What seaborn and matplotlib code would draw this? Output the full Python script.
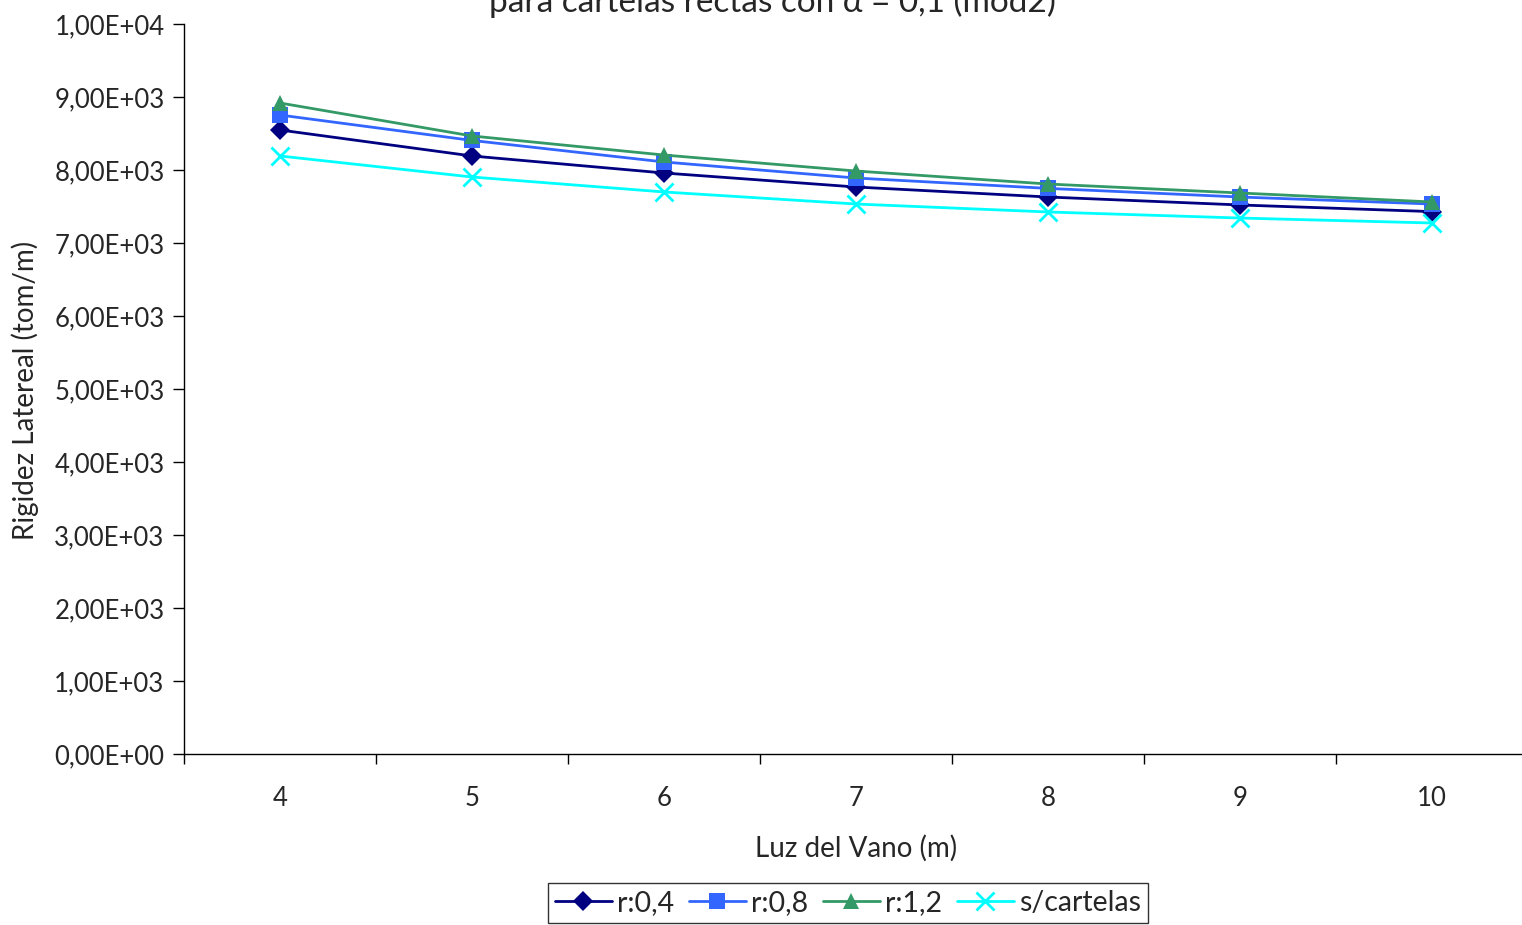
import matplotlib
matplotlib.use('Agg')
import matplotlib.pyplot as plt
import seaborn as sns
import pandas as pd
import numpy as np
from matplotlib.ticker import FuncFormatter, FixedLocator

luz = [4, 5, 6, 7, 8, 9, 10]
r04 = [8548, 8192, 7959, 7767, 7630, 7521, 7430]
r08 = [8753, 8405, 8110, 7890, 7748, 7630, 7534]
r12 = [8918, 8466, 8205, 7986, 7808, 7685, 7562]
s_cartelas = [8192, 7904, 7699, 7534, 7425, 7342, 7274]
series = ['r:0,4', 'r:0,8', 'r:1,2', 's/cartelas']

colors = {'r:0,4': '#000080', 'r:0,8': '#3366FF', 'r:1,2': '#339966', 's/cartelas': '#00FFFF'}
markers = {'r:0,4': 'D', 'r:0,8': 's', 'r:1,2': '^', 's/cartelas': 'x'}
sizes = {'r:0,4': 10, 'r:0,8': 11, 'r:1,2': 12, 's/cartelas': 13}

df = pd.DataFrame({
    'luz': luz * 4,
    'rigidez': r04 + r08 + r12 + s_cartelas,
    'serie': [s for s in series for _ in luz],
})

sns.set_style('white')
plt.rcParams['font.family'] = ['Lato', 'DejaVu Sans']

fig = plt.figure(figsize=(15.22, 9.25), dpi=100)
ax = fig.add_axes([184/1522, (925-754)/925, (1528-184)/1522, (754-24)/925])

for s in series:
    sub = df[df['serie'] == s]
    ew = 2 if markers[s] == 'x' else 0
    sns.lineplot(data=sub, x='luz', y='rigidez', color=colors[s], marker=markers[s],
                 markersize=sizes[s], markeredgewidth=ew, markeredgecolor=colors[s],
                 linewidth=2, label=s, ax=ax)

ax.set_xlim(3.5, 10.5)
ax.set_ylim(0, 10000)
ax.set_yticks(np.arange(0, 10001, 1000))
ax.yaxis.set_major_formatter(FuncFormatter(lambda v, p: f'{v:.2E}'.replace('.', ',')))
ax.set_xticks(luz)
ax.xaxis.set_minor_locator(FixedLocator(np.arange(3.5, 10.6, 1)))
ax.tick_params(axis='x', which='major', length=0, pad=23, labelsize=18.5)
ax.tick_params(axis='x', which='minor', length=7, width=1, color='black', direction='out')
ax.tick_params(axis='y', which='major', length=8, width=1, color='black', direction='out',
               labelsize=18.5, pad=6)
ax.xaxis.set_ticks_position('bottom')
ax.yaxis.set_ticks_position('left')

for sp in ['top', 'right']:
    ax.spines[sp].set_visible(False)
for sp in ['left', 'bottom']:
    ax.spines[sp].set_color('black')
    ax.spines[sp].set_linewidth(1)

ax.set_xlabel('')
ax.set_ylabel('')
fig.text(856/1522, 1 - 848/925, 'Luz del Vano (m)', ha='center', va='center', fontsize=20)
fig.text(25/1522, 1 - 390/925, 'Rigidez Latereal (tom/m)', ha='center', va='center',
         rotation=90, fontsize=20)
fig.text(772/1522, 1 - 12/925, 'para cartelas rectas con α = 0,1 (mod2)', ha='center',
         va='baseline', fontsize=24)

ax.get_legend().remove()
handles, labels = ax.get_legend_handles_labels()
leg = fig.legend(handles, labels, loc='center', bbox_to_anchor=(848/1522, 1 - 903/925),
                 ncol=4, frameon=True, fontsize=20.5, handlelength=2.0, handletextpad=0.2,
                 columnspacing=0.5, borderpad=0.25, fancybox=False, edgecolor='black')
leg.get_frame().set_linewidth(1)

fig.savefig('out.png', dpi=100)
